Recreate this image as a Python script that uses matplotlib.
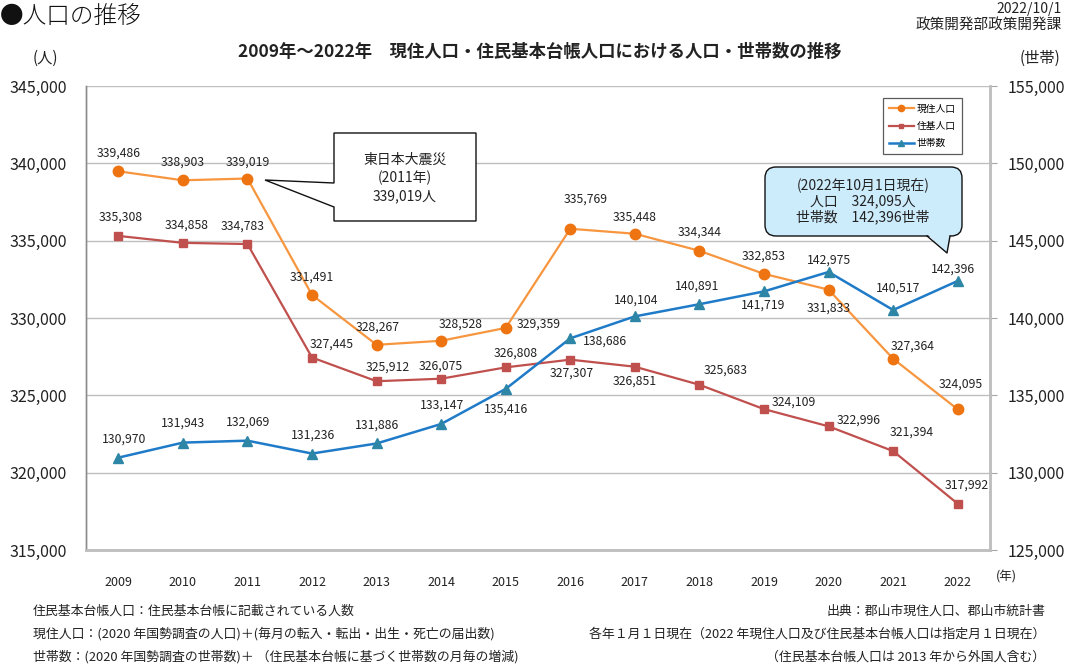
import matplotlib
matplotlib.use("Agg")
import matplotlib.pyplot as plt
from matplotlib.patches import Polygon, FancyBboxPatch
from matplotlib.lines import Line2D
from matplotlib.transforms import IdentityTransform
from matplotlib.ticker import FuncFormatter, MultipleLocator

plt.rcParams['font.family'] = ['Noto Sans CJK JP', 'DejaVu Sans']

# data
years = ["2009", "2010", "2011", "2012", "2013", "2014", "2015",
         "2016", "2017", "2018", "2019", "2020", "2021", "2022"]
genju = [339486, 338903, 339019, 331491, 328267, 328528, 329359,
         335769, 335448, 334344, 332853, 331833, 327364, 324095]
juki = [335308, 334858, 334783, 327445, 325912, 326075, 326808,
        327307, 326851, 325683, 324109, 322996, 321394, 317992]
setai = [130970, 131943, 132069, 131236, 131886, 133147, 135416,
         138686, 140104, 140891, 141719, 142975, 140517, 142396]

# label offsets (pixels)
off_genju = [(0, 18), (0, 18), (0, 16), (0, 18), (1, 18), (20, 17), (33, 4),
             (15, 30), (0, 17), (0, 19), (0, 18), (0, -18), (20, 13), (3, 25)]
off_juki = [(2, 19), (4, 18), (-5, 18), (20, 13), (11, 14), (0, 13), (10, 14),
            (1, -13), (0, -14), (26, 15), (30, 7), (30, 6), (19, 19), (9, 19)]
off_setai = [(6, 19), (0, 19), (1, 19), (1, 18), (0, 18), (1, 19), (0, -20),
             (35, -3), (1, 16), (-2, 18), (-1, -14), (0, 12), (5, 22), (-5, 12)]

W, H = 1070, 666
fig = plt.figure(figsize=(W / 100, H / 100), dpi=100)
ax = fig.add_axes([86 / W, 1 - 550 / H, (990 - 86) / W, (550 - 86) / H])
ax2 = ax.twinx()

x = list(range(len(years)))
c_or, c_or_m = "#F7963F", "#EE7412"
c_rd = "#C0504D"
c_bl, c_bl_m = "#1F7BC8", "#2E86A6"

l1, = ax.plot(x, genju, color=c_or, lw=1.6, marker="o", ms=7.5,
              mfc=c_or_m, mec=c_or_m, label="現住人口", zorder=3)
l2, = ax.plot(x, juki, color=c_rd, lw=1.6, marker="s", ms=6,
              mfc=c_rd, mec=c_rd, label="住基人口", zorder=3)
l3, = ax2.plot(x, setai, color=c_bl, lw=1.8, marker="^", ms=7.5,
               mfc=c_bl_m, mec=c_bl_m, label="世帯数", zorder=3)

lab_kw = dict(textcoords="offset pixels", ha="center", va="center",
              fontsize=8.8, color="#222222")
for i, v in enumerate(genju):
    ax.annotate(f"{v:,}", (i, v), xytext=off_genju[i], **lab_kw)
for i, v in enumerate(juki):
    ax.annotate(f"{v:,}", (i, v), xytext=off_juki[i], **lab_kw)
for i, v in enumerate(setai):
    ax2.annotate(f"{v:,}", (i, v), xytext=off_setai[i], **lab_kw)

fmt = FuncFormatter(lambda v, p: f"{int(v):,}")
ax.set_xlim(-0.5, len(years) - 0.5)
ax.set_ylim(315000, 345000)
ax2.set_ylim(125000, 155000)
ax.yaxis.set_major_locator(MultipleLocator(5000))
ax2.yaxis.set_major_locator(MultipleLocator(5000))
ax.yaxis.set_major_formatter(fmt)
ax2.yaxis.set_major_formatter(fmt)
ax.set_xticks(x)
ax.set_xticklabels(years)
ax.tick_params(axis="x", length=0, pad=19, labelsize=9, labelcolor="#222222")
ax.tick_params(axis="y", length=0, pad=14, labelsize=11.5, labelcolor="#222222")
ax2.tick_params(axis="y", length=5, color="#A6A6A6", pad=8, labelsize=11.5,
                labelcolor="#222222")
ax.grid(axis="y", color="#BFBFBF", lw=1)
ax.set_axisbelow(True)
for a in (ax, ax2):
    a.spines["top"].set_visible(False)
    a.spines["left"].set_color("#8C8C8C")
    a.spines["left"].set_linewidth(1)
    a.spines["bottom"].set_color("#BFBFBF")
    a.spines["bottom"].set_linewidth(1.8)
    a.spines["right"].set_color("#BFBFBF")
    a.spines["right"].set_linewidth(1.8)

leg = ax2.legend(handles=[l1, l2, l3], loc="upper left",
                 bbox_to_anchor=(0.876, 0.985), fontsize=7, frameon=True,
                 fancybox=False, edgecolor="#333333", markerscale=0.6,
                 handlelength=2.6, handletextpad=0.3, borderpad=0.6,
                 labelspacing=0.75)
leg.get_frame().set_linewidth(0.9)


# callouts, drawn in image pixel space
def P(px, py):
    return (px, H - py)


T = IdentityTransform()
call1 = Polygon([P(334, 133), P(476, 133), P(476, 221), P(334, 221),
                 P(334, 207), P(265, 180), P(334, 183)], closed=True,
                fc="white", ec="#111111", lw=1, transform=T, zorder=10)
fig.patches.append(call1)
for k, t in enumerate(["東日本大震災", "(2011年)", "339,019人"]):
    fig.text(405 / W, 1 - (160 + 18 * k) / H, t, ha="center", va="center",
             fontsize=10, color="#222222", zorder=11)

bx0, by0, bx1, by1 = 765, 167, 962, 236
box2 = FancyBboxPatch(P(bx0, by1), bx1 - bx0, by1 - by0,
                      boxstyle="round,pad=0,rounding_size=11",
                      fc="#CCEBFB", ec="#111111", lw=1, transform=T, zorder=10)
fig.patches.append(box2)
tri_fill = Polygon([P(927, by1 - 2), P(950, by1 - 2), P(947, 253)], closed=True,
                   fc="#CCEBFB", ec="none", transform=T, zorder=11)
fig.patches.append(tri_fill)
fig.lines.append(Line2D([927, 947, 950], [H - by1, H - 253, H - by1],
                        color="#111111", lw=1, transform=T, zorder=12))
for k, t in enumerate(["(2022年10月1日現在)", "人口　324,095人", "世帯数　142,396世帯"]):
    fig.text(863 / W, 1 - (185 + 16 * k) / H, t, ha="center", va="center",
             fontsize=10, color="#222222", zorder=13)

# titles and notes
fig.text(0 / W, 1 - 16 / H, "●人口の推移", ha="left", va="center",
         fontsize=17, fontweight="light", color="#111111")
fig.text(1062 / W, 1 - 9 / H, "2022/10/1", ha="right", va="center",
         fontsize=10, color="#222222")
fig.text(1062 / W, 1 - 25 / H, "政策開発部政策開発課", ha="right", va="center",
         fontsize=10.5, color="#222222")
fig.text(540 / W, 1 - 52 / H,
         "2009年～2022年　現住人口・住民基本台帳人口における人口・世帯数の推移",
         ha="center", va="center", fontsize=12.5, fontweight="bold", color="#222222")
fig.text(45 / W, 1 - 58 / H, "(人)", ha="center", va="center", fontsize=11,
         color="#222222")
fig.text(1040 / W, 1 - 58 / H, "(世帯)", ha="center", va="center", fontsize=11,
         color="#222222")
fig.text(1006 / W, 1 - 577 / H, "(年)", ha="center", va="center", fontsize=9,
         color="#222222")

notes_left = ["住民基本台帳人口：住民基本台帳に記載されている人数",
              "現住人口：(2020 年国勢調査の人口)＋(毎月の転入・転出・出生・死亡の届出数)",
              "世帯数：(2020 年国勢調査の世帯数)＋ （住民基本台帳に基づく世帯数の月毎の増減)"]
notes_right = ["出典：郡山市現住人口、郡山市統計書",
               "各年１月１日現在（2022 年現住人口及び住民基本台帳人口は指定月１日現在）",
               "（住民基本台帳人口は 2013 年から外国人含む）"]
for k, t in enumerate(notes_left):
    fig.text(33 / W, 1 - (611 + 23 * k) / H, t, ha="left", va="center",
             fontsize=9.3, color="#222222")
for k, t in enumerate(notes_right):
    fig.text(1045 / W, 1 - (611 + 23 * k) / H, t, ha="right", va="center",
             fontsize=9.3, color="#222222")

fig.savefig("out.png", dpi=100)
